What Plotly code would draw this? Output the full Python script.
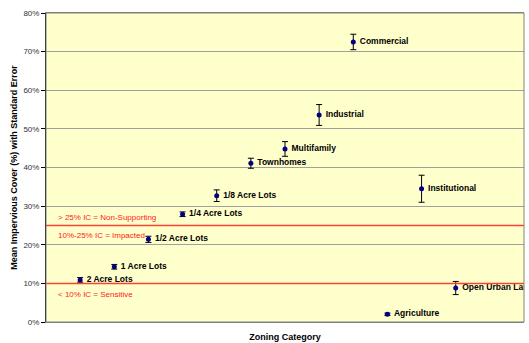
import plotly.graph_objects as go

categories = ["2 Acre Lots", "1 Acre Lots", "1/2 Acre Lots", "1/4 Acre Lots", "1/8 Acre Lots",
              "Townhomes", "Multifamily", "Industrial", "Commercial", "Agriculture",
              "Institutional", "Open Urban Land"]
positions = [1, 2, 3, 4, 5, 6, 7, 8, 9, 10, 11, 12]
mean_ic = [10.9, 14.3, 21.4, 27.9, 32.7, 41.1, 44.8, 53.6, 72.5, 2.0, 34.5, 8.8]
std_err = [0.6, 0.6, 0.8, 0.6, 1.5, 1.3, 1.9, 2.7, 2.0, 0.3, 3.5, 1.7]
y_ticks = [0, 10, 20, 30, 40, 50, 60, 70, 80]
y_tick_labels = ["0%", "10%", "20%", "30%", "40%", "50%", "60%", "70%", "80%"]
thresholds = [10, 25]
zone_labels = ["> 25% IC = Non-Supporting", "10%-25% IC = Impacted", "< 10% IC = Sensitive"]
zone_label_y = [27.1, 22.3, 7.2]

fig = go.Figure()

for t in thresholds:
    fig.add_shape(type="line", xref="paper", x0=0, x1=1, y0=t, y1=t,
                  line=dict(color="#FF4030", width=1.5), layer="above")

fig.add_trace(go.Scatter(
    x=positions, y=mean_ic, mode="markers+text",
    text=[" <b>" + c + "</b>" for c in categories], textposition="middle right",
    textfont=dict(family="Arial, Liberation Sans", size=8.5, color="#000000"),
    marker=dict(symbol="circle", size=5, color="#000080"),
    error_y=dict(type="data", array=std_err, visible=True, color="#000000",
                 thickness=1, width=3),
    cliponaxis=True, showlegend=False,
))

for lab, yy in zip(zone_labels, zone_label_y):
    fig.add_annotation(x=0.02, xref="paper", y=yy, yref="y", text=lab,
                       showarrow=False, xanchor="left", yanchor="middle",
                       font=dict(family="Arial, Liberation Sans", size=8, color="#FF2020"))

fig.update_layout(
    width=529, height=343,
    margin=dict(l=46, r=5, t=13, b=21),
    paper_bgcolor="white", plot_bgcolor="#FFFFCC",
    font=dict(family="Arial, Liberation Sans", size=8, color="#000000"),
    xaxis=dict(range=[0, 14], showticklabels=False, ticks="", showgrid=False,
               zeroline=False, showline=True, linecolor="#808080", linewidth=1, mirror=True,
               title=dict(text="<b>Zoning Category</b>", font=dict(size=9), standoff=11)),
    yaxis=dict(range=[0, 80], tickvals=y_ticks, ticktext=y_tick_labels,
               tickfont=dict(size=8, color="#333333"),
               ticks="outside", ticklen=4, tickcolor="#000000",
               showgrid=True, gridcolor="#A0A0A0", gridwidth=1, zeroline=False,
               showline=True, linecolor="#000000", linewidth=1, mirror=False,
               title=dict(text="<b>Mean Impervious Cover (%) with Standard Error</b>",
                          font=dict(size=9), standoff=4)),
)
fig.add_shape(type="rect", xref="paper", yref="paper", x0=0, x1=1, y0=0, y1=1,
              line=dict(color="#808080", width=1), layer="above")

fig.write_html("out.html")
